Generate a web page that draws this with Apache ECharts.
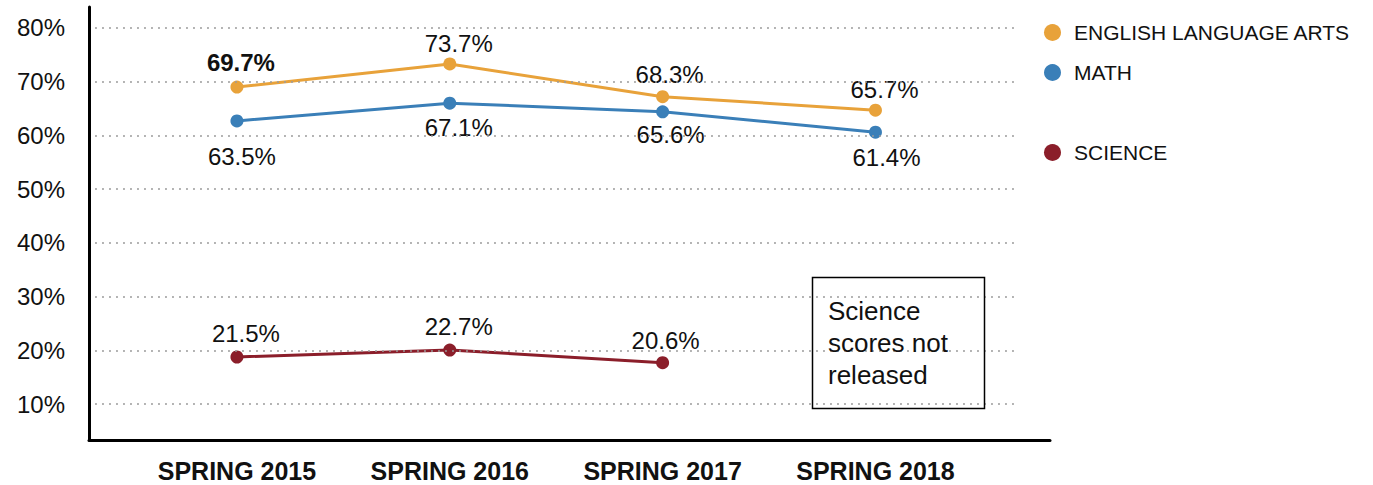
<!DOCTYPE html>
<html>
<head>
<meta charset="utf-8">
<script src="https://cdn.jsdelivr.net/npm/echarts@6/dist/echarts.min.js"></script>
<style>
  html, body { margin: 0; padding: 0; background: #fff; }
  #chart { width: 1373px; height: 485px; }
</style>
</head>
<body>
<div id="chart"></div>
<script>
// categories and tick labels
const categories = ['SPRING 2015', 'SPRING 2016', 'SPRING 2017', 'SPRING 2018'];
const yTicks = [10, 20, 30, 40, 50, 60, 70, 80];

// plotted positions as drawn, and the printed labels
const elaValues = [69.0, 73.3, 67.2, 64.7];
const elaLabels = ['69.7%', '73.7%', '68.3%', '65.7%'];
const mathValues = [62.7, 66.0, 64.4, 60.6];
const mathLabels = ['63.5%', '67.1%', '65.6%', '61.4%'];
const scienceValues = [18.75, 20.05, 17.7];
const scienceLabels = ['21.5%', '22.7%', '20.6%'];

const FONT = '"Liberation Sans", Arial, sans-serif';

function buildData(values, labels, offsets, boldFirst) {
  return values.map((v, i) => ({
    value: [i, v],
    label: {
      show: true,
      position: 'inside',
      offset: offsets[i],
      formatter: labels[i],
      fontSize: 24,
      fontFamily: FONT,
      color: '#111',
      fontWeight: (boldFirst && i === 0) ? 'bold' : 'normal'
    }
  }));
}

function lineSeries(name, color, data) {
  return {
    name: name,
    type: 'line',
    data: data,
    symbol: 'circle',
    symbolSize: 13,
    lineStyle: { color: color, width: 3 },
    itemStyle: { color: color },
    z: 3
  };
}

const chart = echarts.init(document.getElementById('chart'), null, { renderer: 'svg' });

const gridLines = yTicks.map(v => [{ coord: [-0.667, v] }, { coord: [3.653, v] }]);

const legendText = { fontSize: 21, fontFamily: FONT, color: '#111', padding: [0, 0, 0, 8] };

const option = {
  animation: false,
  backgroundColor: '#fff',
  grid: { left: 89, top: 7, right: 323, bottom: 45 },
  xAxis: {
    type: 'value',
    min: -0.695,
    max: 3.82,
    axisLine: { show: true, onZero: false, lineStyle: { color: '#000', width: 3 } },
    axisTick: { show: false },
    splitLine: { show: false },
    axisLabel: {
      customValues: [0, 1, 2, 3],
      formatter: v => categories[Math.round(v)],
      fontSize: 25,
      fontWeight: 'bold',
      fontFamily: FONT,
      color: '#111',
      margin: 18
    }
  },
  yAxis: {
    type: 'value',
    min: 3.3,
    max: 83.9,
    axisLine: { show: true, onZero: false, lineStyle: { color: '#000', width: 3 } },
    axisTick: { show: false },
    splitLine: { show: false },
    axisLabel: {
      customValues: yTicks,
      formatter: v => v + '%',
      fontSize: 24,
      fontFamily: FONT,
      color: '#111',
      margin: 24
    }
  },
  legend: [
    {
      data: ['ENGLISH LANGUAGE ARTS', 'MATH'],
      orient: 'vertical',
      left: 1044,
      top: 22,
      padding: 0,
      icon: 'circle',
      itemWidth: 17,
      itemHeight: 17,
      itemGap: 19,
      selectedMode: false,
      textStyle: legendText
    },
    {
      data: ['SCIENCE'],
      orient: 'vertical',
      left: 1044,
      top: 142,
      padding: 0,
      icon: 'circle',
      itemWidth: 17,
      itemHeight: 17,
      selectedMode: false,
      textStyle: legendText
    }
  ],
  series: [
    {
      name: 'grid',
      type: 'line',
      data: [],
      silent: true,
      markLine: {
        silent: true,
        symbol: 'none',
        label: { show: false },
        lineStyle: { color: '#9a9a9a', width: 1.5, type: [2, 5] },
        data: gridLines
      },
      z: 1
    },
    lineSeries('ENGLISH LANGUAGE ARTS', '#E8A23A',
      buildData(elaValues, elaLabels, [[4, -25], [9, -20], [7, -22], [9, -21]], true)),
    lineSeries('MATH', '#3A7FB8',
      buildData(mathValues, mathLabels, [[5, 36], [9, 24], [8, 23], [11, 25]], false)),
    lineSeries('SCIENCE', '#8B1E2A',
      buildData(scienceValues, scienceLabels, [[9, -23], [9, -24], [3, -22]], false))
  ],
  graphic: [
    {
      type: 'rect',
      left: 810,
      top: 275,
      shape: { width: 172, height: 131 },
      style: { fill: 'none', stroke: '#000', lineWidth: 1.5 },
      z: 10
    },
    {
      type: 'text',
      left: 828,
      top: 295,
      style: {
        text: 'Science\nscores not\nreleased',
        font: '26px ' + FONT,
        lineHeight: 32,
        fill: '#111'
      },
      z: 10
    }
  ]
};

chart.setOption(option);
</script>
</body>
</html>
